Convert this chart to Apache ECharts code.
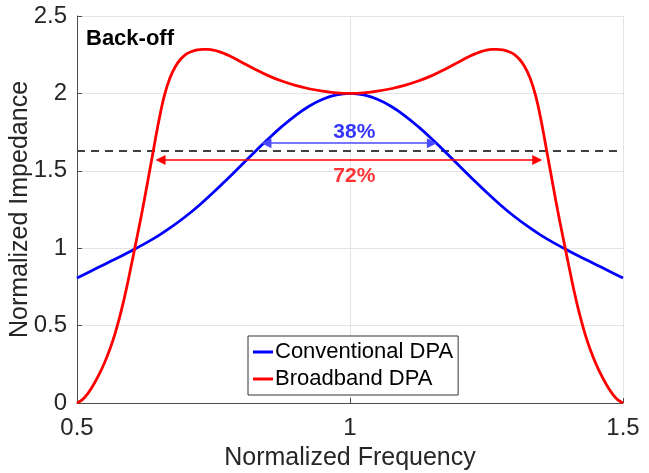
<!DOCTYPE html>
<html>
<head>
<meta charset="utf-8">
<script src="https://cdn.jsdelivr.net/npm/echarts@6/dist/echarts.min.js"></script>
<style>
  html, body { margin: 0; padding: 0; background: #ffffff; }
  #chart { width: 649px; height: 473px; }
</style>
</head>
<body>
<div id="chart"></div>
<script>
// Axis ticks
const xTicks = [0.5, 1, 1.5];
const yTicks = [0, 0.5, 1, 1.5, 2, 2.5];

// Conventional DPA: normalized impedance vs normalized frequency
const convFreq = [0.500, 0.525, 0.550, 0.575, 0.600, 0.625, 0.650, 0.675, 0.700, 0.725,
                  0.750, 0.775, 0.800, 0.825, 0.850, 0.875, 0.900, 0.925, 0.950, 0.975,
                  1.000, 1.025, 1.050, 1.075, 1.100, 1.125, 1.150, 1.175, 1.200, 1.225,
                  1.250, 1.275, 1.300, 1.325, 1.350, 1.375, 1.400, 1.425, 1.450, 1.475, 1.500];
const convImp  = [0.807, 0.851, 0.895, 0.939, 0.984, 1.031, 1.083, 1.142, 1.208, 1.281,
                  1.361, 1.446, 1.533, 1.620, 1.705, 1.785, 1.857, 1.917, 1.962, 1.990,
                  2.000, 1.990, 1.962, 1.917, 1.857, 1.785, 1.705, 1.620, 1.533, 1.446,
                  1.361, 1.281, 1.208, 1.142, 1.083, 1.031, 0.984, 0.939, 0.895, 0.851, 0.807];

// Broadband DPA
const bbFreq = [0.500, 0.510, 0.520, 0.530, 0.540, 0.550, 0.560, 0.570, 0.580, 0.590,
                0.600, 0.610, 0.620, 0.630, 0.640, 0.650, 0.660, 0.670, 0.680, 0.690,
                0.700, 0.710, 0.720, 0.730, 0.740, 0.750, 0.760, 0.770, 0.780, 0.790,
                0.800, 0.825, 0.850, 0.875, 0.900, 0.925, 0.950, 0.975, 1.000,
                1.025, 1.050, 1.075, 1.100, 1.125, 1.150, 1.175, 1.200,
                1.210, 1.220, 1.230, 1.240, 1.250, 1.260, 1.270, 1.280, 1.290, 1.300,
                1.310, 1.320, 1.330, 1.340, 1.350, 1.360, 1.370, 1.380, 1.390, 1.400,
                1.410, 1.420, 1.430, 1.440, 1.450, 1.460, 1.470, 1.480, 1.490, 1.500];
const bbImp  = [0.000, 0.022, 0.062, 0.116, 0.181, 0.257, 0.346, 0.452, 0.580, 0.730,
                0.900, 1.072, 1.250, 1.440, 1.635, 1.825, 1.985, 2.098, 2.172, 2.222,
                2.254, 2.271, 2.281, 2.285, 2.284, 2.279, 2.270, 2.257, 2.242, 2.224,
                2.205, 2.158, 2.115, 2.080, 2.052, 2.030, 2.014, 2.004, 2.000,
                2.004, 2.014, 2.030, 2.052, 2.080, 2.115, 2.158, 2.205,
                2.224, 2.242, 2.257, 2.270, 2.279, 2.284, 2.285, 2.281, 2.271, 2.254,
                2.222, 2.172, 2.098, 1.985, 1.825, 1.635, 1.440, 1.250, 1.072, 0.900,
                0.730, 0.580, 0.452, 0.346, 0.257, 0.181, 0.116, 0.062, 0.022, 0.000];

// Back-off reference level (dashed)
const refLevel = 1.628;

// Bandwidth arrows: [left end, right end, height]
const convArrow = [0.847, 1.150, 1.678];
const bbArrow   = [0.653, 1.343, 1.570];

// Bandwidth annotations: [x, y, text]
const convLabel = [1.008, 1.749, '38%'];
const bbLabel   = [1.008, 1.462, '72%'];

const seriesNames = ['Conventional DPA', 'Broadband DPA'];
const blue = '#0000ff';
const red = '#ff0000';
const FONT = 'Liberation Sans, Arial, Helvetica, sans-serif';
const textColor = '#262626';

const chart = echarts.init(document.getElementById('chart'), null, { renderer: 'canvas' });

function pairs(xs, ys) { return xs.map((x, i) => [x, ys[i]]); }

const option = {
  animation: false,
  backgroundColor: '#ffffff',
  grid: { left: 77, right: 26, top: 16, bottom: 70, containLabel: false, outerBoundsMode: 'none' },
  xAxis: {
    type: 'value',
    min: xTicks[0],
    max: xTicks[xTicks.length - 1],
    interval: xTicks[1] - xTicks[0],
    name: 'Normalized Frequency',
    nameLocation: 'middle',
    nameGap: 43,
    nameMoveOverlap: false,
    nameTextStyle: { fontFamily: FONT, fontSize: 25, color: textColor },
    axisLine: { show: true, onZero: false, lineStyle: { color: '#4d4d4d', width: 1 } },
    axisTick: { show: true, inside: true, length: 5, lineStyle: { color: '#4d4d4d' } },
    axisLabel: { fontFamily: FONT, fontSize: 24, color: textColor, margin: 13 },
    splitLine: { show: true, lineStyle: { color: '#e4e4e4', width: 1 } }
  },
  yAxis: {
    type: 'value',
    min: yTicks[0],
    max: yTicks[yTicks.length - 1],
    interval: yTicks[1] - yTicks[0],
    name: 'Normalized Impedance',
    nameLocation: 'middle',
    nameGap: 44,
    nameMoveOverlap: false,
    nameTextStyle: { fontFamily: FONT, fontSize: 25, color: textColor },
    axisLine: { show: true, onZero: false, lineStyle: { color: '#4d4d4d', width: 1 } },
    axisTick: { show: true, inside: true, length: 5, lineStyle: { color: '#4d4d4d' } },
    axisLabel: { fontFamily: FONT, fontSize: 24, color: textColor, margin: 10 },
    splitLine: { show: true, lineStyle: { color: '#e4e4e4', width: 1 } }
  },
  legend: {
    data: seriesNames,
    orient: 'vertical',
    left: 248,
    top: 336,
    padding: [5, 5, 5, 5],
    itemGap: 5,
    itemWidth: 20,
    itemHeight: 3,
    icon: 'rect',
    backgroundColor: '#ffffff',
    borderColor: '#333333',
    borderWidth: 1,
    borderRadius: 0,
    textStyle: { fontFamily: FONT, fontSize: 22, color: '#000000', padding: [0, 0, 0, -3] }
  },
  graphic: [{
    type: 'text',
    left: 86,
    top: 28,
    style: { text: 'Back-off', font: 'bold 22px ' + FONT, fill: '#000000' }
  }],
  series: [
    {
      name: 'ref',
      type: 'line',
      data: [[xTicks[0], refLevel], [xTicks[xTicks.length - 1], refLevel]],
      symbol: 'none',
      silent: true,
      lineStyle: { color: '#404040', width: 1.8, type: [8, 6] },
      z: 2
    },
    {
      name: seriesNames[0],
      type: 'line',
      data: pairs(convFreq, convImp),
      symbol: 'none',
      smooth: 0.4,
      lineStyle: { color: blue, width: 2.8 },
      itemStyle: { color: blue },
      z: 3
    },
    {
      name: seriesNames[1],
      type: 'line',
      data: pairs(bbFreq, bbImp),
      symbol: 'none',
      smooth: 0.4,
      lineStyle: { color: red, width: 2.8 },
      itemStyle: { color: red },
      z: 4
    },
    {
      name: 'arrows',
      type: 'lines',
      coordinateSystem: 'cartesian2d',
      symbol: ['triangle', 'triangle'],
      symbolSize: 10,
      silent: true,
      z: 5,
      data: [
        { coords: [[convArrow[0], convArrow[2]], [convArrow[1], convArrow[2]]],
          lineStyle: { color: '#4a4aff', width: 1.5, opacity: 1 }, itemStyle: { color: blue } },
        { coords: [[bbArrow[0], bbArrow[2]], [bbArrow[1], bbArrow[2]]],
          lineStyle: { color: red, width: 1.5, opacity: 1 }, itemStyle: { color: red } }
      ]
    },
    {
      name: 'bandwidth',
      type: 'scatter',
      symbolSize: 0,
      silent: true,
      z: 6,
      data: [
        { value: [convLabel[0], convLabel[1]],
          label: { show: true, position: 'inside', formatter: convLabel[2], color: blue,
                   fontFamily: FONT, fontSize: 21, fontWeight: 'bold' } },
        { value: [bbLabel[0], bbLabel[1]],
          label: { show: true, position: 'inside', formatter: bbLabel[2], color: red,
                   fontFamily: FONT, fontSize: 21, fontWeight: 'bold' } }
      ]
    }
  ]
};

chart.setOption(option);
</script>
</body>
</html>
